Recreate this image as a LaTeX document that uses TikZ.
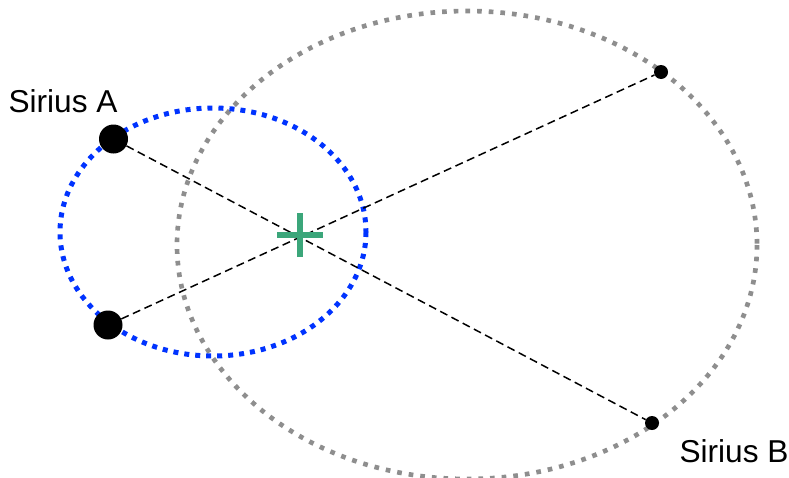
\documentclass[tikz,border=0pt]{standalone}
\usepackage{fontspec}
\setmainfont{Liberation Sans}
\usetikzlibrary{positioning}
\definecolor{azulorb}{HTML}{0033FF}
\definecolor{grisorb}{HTML}{8E8E8E}
\definecolor{verdecm}{HTML}{3BA67A}
\tikzset{
  orbitaA/.style={draw=azulorb, line width=0.15cm, dash pattern=on 0.15cm off 0.18cm},
  orbitaB/.style={draw=grisorb, line width=0.14cm, dash pattern=on 0.14cm off 0.21cm},
  estrellaA/.style={circle, fill=black, inner sep=0pt, minimum size=0.87cm},
  estrellaB/.style={circle, fill=black, inner sep=0pt, minimum size=0.42cm},
  union/.style={draw=black, line width=0.045cm, dash pattern=on 0.24cm off 0.14cm},
  etiqueta/.style={font=\fontsize{27}{32}\selectfont, anchor=base, inner sep=0pt},
  cruz/.style={draw=verdecm, line width=0.18cm}
}
\begin{document}
\begin{tikzpicture}[x=0.03cm, y=-0.03cm]
  \useasboundingbox (0,0) rectangle (789,477);
  % orbits
  \draw [orbitaB] (467,245) ellipse [x radius=290, y radius=234];
  \draw [orbitaA] (213,232) ellipse [x radius=153, y radius=124];
  % stars
  \node (a1) [estrellaA] at (113.5,139) {};
  \node (a2) [estrellaA] at (108,325) {};
  \node (b1) [estrellaB] at (661,72) {};
  \node (b2) [estrellaB] at (652,423) {};
  \coordinate (cm) at (300,235);
  \draw [union] (a1) -- (b2);
  \draw [union] (a2) -- (b1);
  % centre of mass
  \draw [cruz] ([xshift=-0.68cm]cm) -- ([xshift=0.68cm]cm);
  \draw [cruz] ([yshift=-0.66cm]cm) -- ([yshift=0.66cm]cm);
  % labels
  \node (la) [etiqueta] at (63,112) {Sirius A};
  \node (lb) [etiqueta] at (734,462) {Sirius B};
\end{tikzpicture}
\end{document}
